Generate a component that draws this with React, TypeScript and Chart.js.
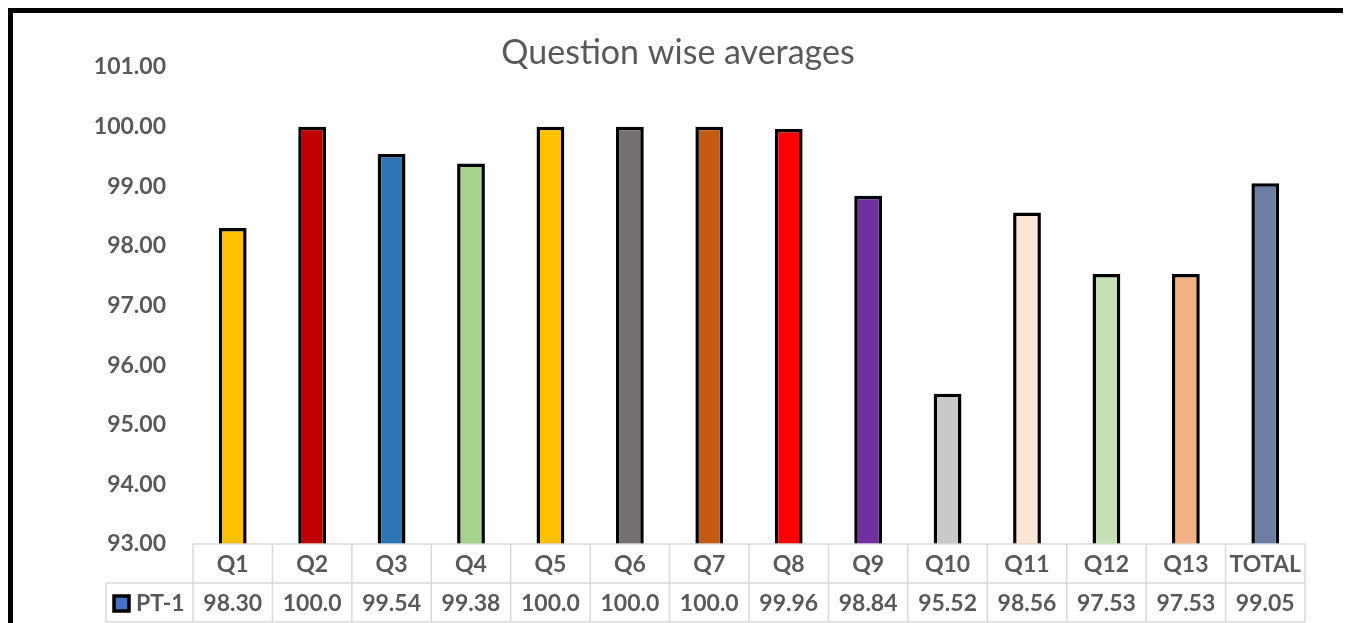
import React, { useEffect, useRef } from "react";
import { Chart, registerables } from "chart.js";

Chart.register(...registerables);

const titleText = "Question wise averages";
const seriesName = "PT-1";
const categories = ["Q1", "Q2", "Q3", "Q4", "Q5", "Q6", "Q7", "Q8", "Q9", "Q10", "Q11", "Q12", "Q13", "TOTAL"];
const values = [98.3, 100.0, 99.54, 99.38, 100.0, 100.0, 100.0, 99.96, 98.84, 95.52, 98.56, 97.53, 97.53, 99.05];
const barColors = [
  "#FFC000", "#C00000", "#2E75B6", "#A9D18E", "#FFC000", "#767171", "#C55A11",
  "#FF0000", "#7030A0", "#C9C9C9", "#FBE5D6", "#C5E0B4", "#F4B183", "#6A7FA1",
];
const legendColor = "#4472C4";
const yMin = 93;
const yMax = 101;
const yStep = 1;

const FONT = "Lato, 'Open Sans', sans-serif";
const TEXT = "#595959";
const GRID = "#D9D9D9";

const tablePlugin = {
  id: "tablePlugin",
  afterDraw(chart: any) {
    const ctx = chart.ctx;
    const area = chart.chartArea;
    const xs = chart.scales.x;
    const n = categories.length;
    const colW = (area.right - area.left) / n;
    const rowH = 39;
    const r1 = area.bottom;
    const r2 = r1 + rowH;
    const r3 = r2 + rowH;
    const legendLeft = area.left - 87;

    ctx.save();
    // title
    ctx.fillStyle = TEXT;
    ctx.font = `34px ${FONT}`;
    ctx.textAlign = "center";
    ctx.textBaseline = "middle";
    ctx.fillText(titleText, chart.width / 2, 40);

    // table grid
    ctx.strokeStyle = GRID;
    ctx.lineWidth = 1.5;
    ctx.beginPath();
    ctx.moveTo(area.left, r1);
    ctx.lineTo(area.right, r1);
    ctx.moveTo(legendLeft, r2);
    ctx.lineTo(area.right, r2);
    ctx.moveTo(legendLeft, r3);
    ctx.lineTo(area.right, r3);
    ctx.moveTo(legendLeft, r2);
    ctx.lineTo(legendLeft, r3);
    for (let i = 0; i <= n; i++) {
      const x = area.left + i * colW;
      ctx.moveTo(x, r1);
      ctx.lineTo(x, r3);
    }
    ctx.stroke();

    // texts
    ctx.fillStyle = TEXT;
    ctx.font = `bold 23px ${FONT}`;
    ctx.textAlign = "center";
    ctx.textBaseline = "middle";
    for (let i = 0; i < n; i++) {
      const cx = xs.getPixelForValue(i);
      ctx.fillText(categories[i], cx, r1 + rowH / 2 + 1);
      ctx.fillText(values[i].toFixed(2).slice(0, 5), cx, r2 + rowH / 2 + 1);
    }

    // legend cell
    const sq = 15;
    const sx = legendLeft + 8;
    const sy = r2 + rowH / 2 - sq / 2 + 1;
    ctx.fillStyle = legendColor;
    ctx.fillRect(sx, sy, sq, sq);
    ctx.strokeStyle = "#000";
    ctx.lineWidth = 3.5;
    ctx.strokeRect(sx, sy, sq, sq);
    ctx.fillStyle = TEXT;
    ctx.textAlign = "left";
    ctx.fillText(seriesName, sx + sq + 7, r2 + rowH / 2 + 1);
    ctx.restore();
  },
};

export default function App() {
  const ref = useRef<HTMLCanvasElement | null>(null);

  useEffect(() => {
    if (!ref.current) return;
    const chart = new Chart(ref.current, {
      type: "bar",
      data: {
        labels: categories,
        datasets: [
          {
            label: seriesName,
            data: values,
            backgroundColor: barColors,
            borderColor: "#000000",
            borderWidth: 3.5,
            categoryPercentage: 1,
            barPercentage: 0.35,
          },
        ],
      },
      options: {
        responsive: false,
        animation: false,
        devicePixelRatio: 1,
        layout: { padding: { top: 54, right: 38, bottom: 99, left: 0 } },
        plugins: {
          legend: { display: false },
          title: { display: false },
          tooltip: { enabled: false },
        },
        scales: {
          x: {
            display: false,
            grid: { display: false },
          },
          y: {
            min: yMin,
            max: yMax,
            afterFit(scale: any) {
              scale.width = 180;
            },
            ticks: {
              stepSize: yStep,
              padding: 19,
              color: TEXT,
              font: { family: FONT, size: 23, weight: "bold" },
              callback: (v: any) => Number(v).toFixed(2),
            },
            grid: { display: false },
            border: { display: false },
          },
        },
      },
      plugins: [tablePlugin],
    });
    return () => chart.destroy();
  }, []);

  return (
    <div style={{ height: 615, overflow: "hidden" }}>
      <div
        style={{
          width: 1340,
          height: 640,
          border: "5px solid #000",
          boxSizing: "border-box",
          background: "#fff",
        }}
      >
        <canvas ref={ref} width={1330} height={630} style={{ display: "block", width: 1330, height: 630 }} />
      </div>
    </div>
  );
}
